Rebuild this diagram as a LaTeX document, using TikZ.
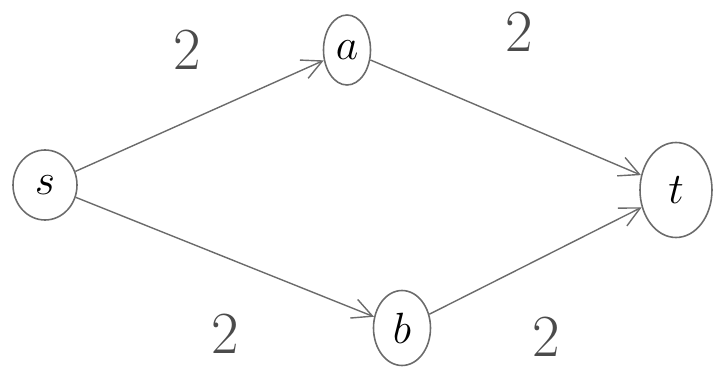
\documentclass[tikz,border=0pt]{standalone}
\usepackage{tikz}
\usetikzlibrary{arrows.meta, shapes.geometric}
\definecolor{pencil}{gray}{0.42}

\begin{document}
\begin{tikzpicture}[
        vertex/.style={ellipse, draw=pencil, line width=0.9pt, inner sep=0pt, font=\fontsize{30}{30}\selectfont},
        flow/.style={draw=pencil, line width=0.8pt, -{Straight Barb[length=4mm, width=4mm]}},
        weight/.style={font=\fontsize{34}{34}\selectfont, text=pencil!70!black}
    ]

    % 0. Frame of the page
    \useasboundingbox (0,0) rectangle (14.28,7.44);

    % 1. Vertices
    \node[vertex, minimum width=1.28cm, minimum height=1.40cm] (s) at (0.90,3.74) {$s$};
    \node[vertex, minimum width=0.94cm, minimum height=1.40cm] (a) at (6.94,6.44) {$a$};
    \node[vertex, minimum width=1.14cm, minimum height=1.50cm] (b) at (8.04,0.88) {$b$};
    \node[vertex, minimum width=1.44cm, minimum height=1.90cm] (t) at (13.52,3.64) {$t$};

    % 2. Edges with capacities
    \draw[flow] (s) -- node[pos=0.45, above=0.9cm, weight] (c1) {2} (a);
    \draw[flow] (a) -- node[pos=0.55, above=1.3cm, weight] (c2) {2} (t);
    \draw[flow] (s) -- node[pos=0.5, below=1.0cm, weight] (c3) {2} (b);
    \draw[flow] (b) -- node[pos=0.55, below=1.1cm, weight] (c4) {2} (t);

\end{tikzpicture}
\end{document}
